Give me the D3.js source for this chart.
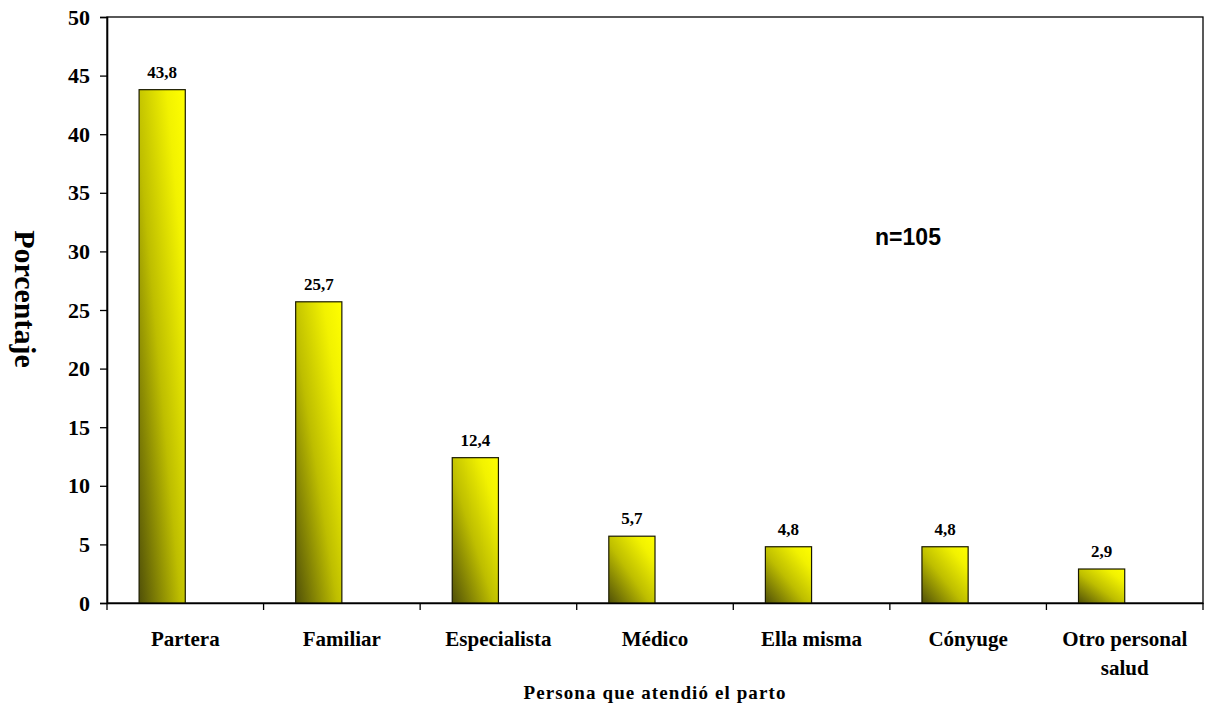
<!DOCTYPE html>
<html>
<head>
<meta charset="utf-8">
<script src="https://cdn.jsdelivr.net/npm/d3@7"></script>
<style>
  html, body { margin: 0; padding: 0; background: #fff; }
  svg { display: block; }
</style>
</head>
<body>
<svg id="chart" width="1207" height="708"></svg>
<script>
// Who attended the birth (percent of cases)
const categories = ["Partera", "Familiar", "Especialista", "Médico", "Ella misma", "Cónyuge", "Otro personal salud"];
const values = [43.8, 25.7, 12.4, 5.7, 4.8, 4.8, 2.9];
const yTicks = [0, 5, 10, 15, 20, 25, 30, 35, 40, 45, 50];
const sampleNote = "n=105";
const yTitle = "Porcentaje";
const xTitle = "Persona que atendió el parto";

const svg = d3.select("#chart");
const plot = { left: 107, right: 1203, top: 17, bottom: 603 };
const serif = "'Liberation Serif', 'Times New Roman', serif";
const sans = "'Liberation Sans', Arial, sans-serif";

const x = d3.scaleBand().domain(categories).range([plot.left, plot.right]).padding(0);
const y = d3.scaleLinear().domain([0, 50]).range([plot.bottom, plot.top]);

// Diagonal olive-to-yellow shading for the bars
const defs = svg.append("defs");
const grad = defs.append("linearGradient")
  .attr("id", "barShade")
  .attr("x1", 0).attr("y1", 1).attr("x2", 1).attr("y2", 0);
grad.append("stop").attr("offset", "0").attr("stop-color", "#505008");
grad.append("stop").attr("offset", "0.45").attr("stop-color", "#bebe00");
grad.append("stop").attr("offset", "0.8").attr("stop-color", "#f2f200");
grad.append("stop").attr("offset", "1").attr("stop-color", "#ffff00");

// Plot frame (top and right edges)
svg.append("rect")
  .attr("x", plot.left).attr("y", plot.top)
  .attr("width", plot.right - plot.left).attr("height", plot.bottom - plot.top)
  .attr("fill", "none").attr("stroke", "#000").attr("stroke-width", 1.3);

// Bars sit in the left half of each category slot
const bw = x.bandwidth();
const barW = bw * 0.295;
const barX = d => x(d) + bw / 2 - barW;

svg.append("g").selectAll("rect")
  .data(categories)
  .join("rect")
  .attr("x", d => barX(d))
  .attr("y", (d, i) => y(values[i]))
  .attr("width", barW)
  .attr("height", (d, i) => y(0) - y(values[i]))
  .attr("fill", "url(#barShade)")
  .attr("stroke", "#1a1a00")
  .attr("stroke-width", 1.2);

// Value labels above bars
svg.append("g").selectAll("text")
  .data(categories)
  .join("text")
  .attr("x", d => barX(d) + barW / 2)
  .attr("y", (d, i) => y(values[i]) - 12)
  .attr("text-anchor", "middle")
  .attr("font-family", serif)
  .attr("font-weight", "bold")
  .attr("font-size", 17)
  .text((d, i) => d3.format(".1f")(values[i]).replace(".", ","));

// Y axis
const yAxis = svg.append("g")
  .attr("transform", `translate(${plot.left},0)`)
  .call(d3.axisLeft(y).tickValues(yTicks).tickSize(7).tickPadding(10).tickFormat(d3.format("d")));
yAxis.select(".domain").attr("stroke", "#000").attr("stroke-width", 1.6);
yAxis.selectAll(".tick line").attr("stroke", "#000").attr("stroke-width", 1.3);
yAxis.selectAll(".tick text")
  .attr("font-family", serif).attr("font-weight", "bold").attr("font-size", 22).attr("fill", "#000");

// X axis: ticks at category boundaries
const xAxis = svg.append("g")
  .attr("transform", `translate(0,${plot.bottom})`)
  .call(d3.axisBottom(x).tickSize(0).tickFormat(""));
xAxis.select(".domain").attr("stroke", "#000").attr("stroke-width", 1.6);
xAxis.selectAll(".tick").remove();
const bounds = categories.map(c => x(c)).concat([x.range()[1]]);
xAxis.selectAll("line.bound")
  .data(bounds)
  .join("line")
  .attr("class", "bound")
  .attr("x1", d => d).attr("x2", d => d)
  .attr("y1", 0).attr("y2", 7)
  .attr("stroke", "#000").attr("stroke-width", 1.3);

// Category labels, wrapped to the slot width
const catG = svg.append("g");
categories.forEach(c => {
  const t = catG.append("text")
    .attr("x", x(c) + bw / 2)
    .attr("y", 646)
    .attr("text-anchor", "middle")
    .attr("font-family", serif).attr("font-weight", "bold").attr("font-size", 21);
  const words = c.split(" ");
  let line = [];
  let tspan = t.append("tspan").attr("x", x(c) + bw / 2).attr("dy", 0);
  words.forEach(w => {
    line.push(w);
    tspan.text(line.join(" "));
    if (tspan.node().getComputedTextLength() > bw - 12 && line.length > 1) {
      line.pop();
      tspan.text(line.join(" "));
      line = [w];
      tspan = t.append("tspan").attr("x", x(c) + bw / 2).attr("dy", 29).text(w);
    }
  });
});

// Axis titles
svg.append("text")
  .attr("transform", "translate(25,299) rotate(90)")
  .attr("text-anchor", "middle")
  .attr("dominant-baseline", "central")
  .attr("font-family", serif).attr("font-weight", "bold").attr("font-size", 30)
  .text(yTitle);

svg.append("text")
  .attr("x", 655).attr("y", 699)
  .attr("text-anchor", "middle")
  .attr("font-family", serif).attr("font-weight", "bold").attr("font-size", 19)
  .attr("letter-spacing", 1.1)
  .text(xTitle);

// Sample size note
svg.append("text")
  .attr("x", 908).attr("y", 245)
  .attr("text-anchor", "middle")
  .attr("font-family", sans).attr("font-weight", "bold").attr("font-size", 23)
  .text(sampleNote);
</script>
</body>
</html>
